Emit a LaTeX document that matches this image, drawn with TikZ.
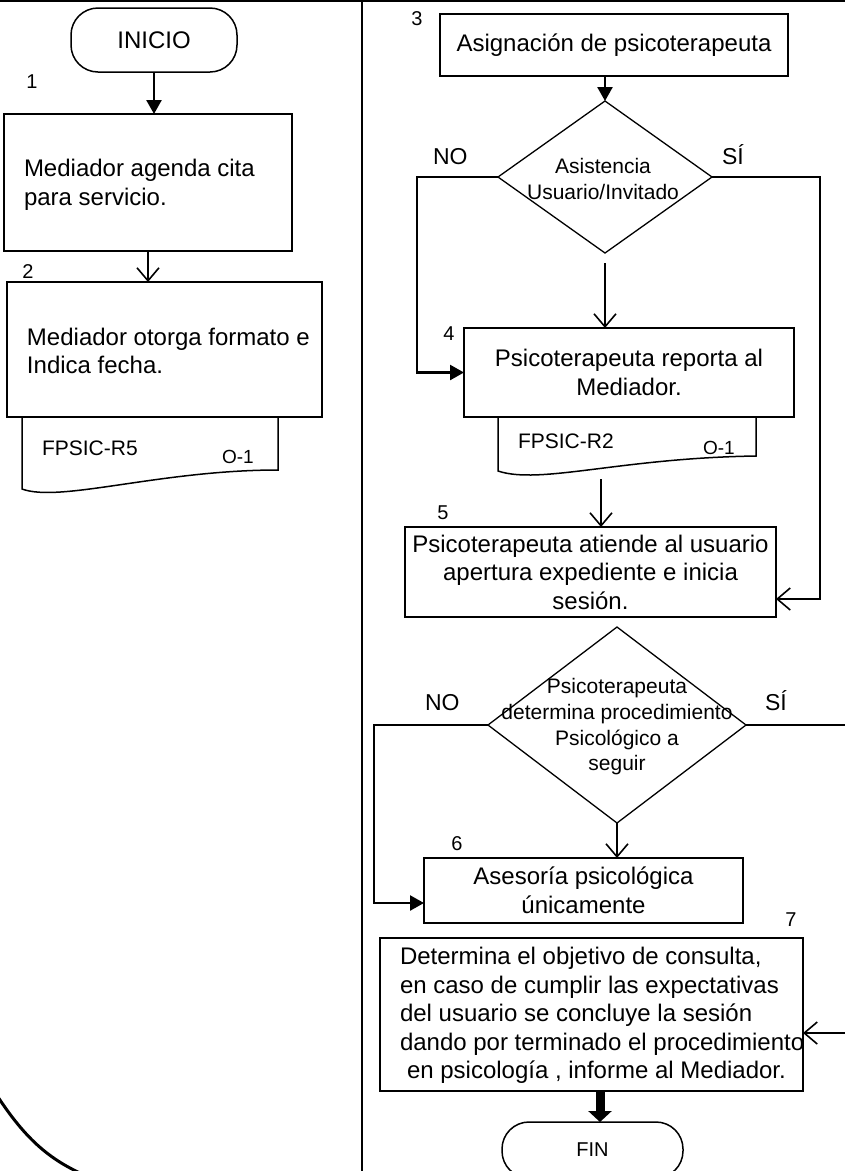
\documentclass[tikz,border=0pt]{standalone}
\usepackage{fontspec}
\setmainfont{Liberation Sans}
\usetikzlibrary{arrows.meta,shapes.geometric}
\begin{document}
\begin{tikzpicture}[x=1pt,y=-1pt,
  every node/.style={inner sep=0pt, outer sep=0pt},
  txt/.style={font=\fontsize{24}{28.5}\selectfont},
  small/.style={font=\fontsize{21}{26}\selectfont},
  procbox/.style={draw, line width=1.5pt, txt, align=center},
  term/.style={draw, line width=1.5pt, rounded corners=27pt, txt},
  decision/.style={diamond, draw, line width=1.3pt},
  num/.style={font=\fontsize{20}{24}\selectfont, anchor=base},
  yesno/.style={font=\fontsize{23}{27}\selectfont, anchor=base west},
  formcode/.style={font=\fontsize{21}{25}\selectfont, anchor=base west},
  copycode/.style={font=\fontsize{19}{23}\selectfont, anchor=base west},
  doc/.style={line width=1.5pt},
  solidhead/.style={line width=2.5pt, -{Triangle[length=14pt,width=15pt]}},
  openhead/.style={line width=1.6pt, -{Straight Barb[length=13pt,width=22pt]}},
  heavy/.style={line width=2.5pt},
]
\useasboundingbox (0,0) rectangle (845,1171);
\fill[white] (0,0) rectangle (845,1171);
\clip (0,0) rectangle (845,1171);

% frame: top rule, column divider, arc at lower left
\draw[line width=2pt] (0,1) -- (845,1);
\draw[line width=2.5pt] (362,0) -- (362,1171);
\draw[line width=3pt] (-2,1097) .. controls (25,1138) and (48,1158) .. (80,1173);

% ---------- left column ----------
\node[term, minimum width=166pt, minimum height=64pt] (ini) at (154,40) {INICIO};
\node[num] (n1) at (32,88) {1};

\node[procbox, minimum width=288pt, minimum height=137pt] (b1) at (148,182.5) {};
\node[txt, align=left, anchor=west] (b1t) at (24,185) {Mediador agenda cita\\para servicio.};

\node[num] (n2) at (28,278) {2};
\node[procbox, minimum width=315pt, minimum height=135pt] (b2) at (164.5,349.5) {};
\node[txt, align=left, anchor=west] (b2t) at (27,351) {Mediador otorga formato e\\Indica fecha.};

% document FPSIC-R5
\draw[doc] (22,417) -- (22,489) .. controls (60,503) and (160,470) .. (278,470) -- (278,417);
\node[formcode] (f5) at (42,455) {FPSIC-R5};
\node[copycode] (c5) at (222,463) {O-1};

\draw[solidhead] (ini.south) -- (ini.south |- b1.north);
\draw[openhead] (b1.south) -- (b1.south |- b2.north);

% ---------- right column ----------
\node[num] (n3) at (417,25) {3};
\node[procbox, minimum width=348pt, minimum height=62pt] (b3) at (614,45) {Asignación de psicoterapeuta};

\node[decision, minimum width=214pt, minimum height=152pt] (d1) at (605,177) {};
\node[small, align=center] (d1t) at (603,178.5) {Asistencia\\Usuario/Invitado};
\node[yesno] (no1) at (433,164) {NO};
\node[yesno] (si1) at (722,164) {SÍ};

\node[num] (n4) at (449,340) {4};
\node[procbox, minimum width=330pt, minimum height=89pt] (b4) at (629,372.5) {Psicoterapeuta reporta al\\Mediador.};

% document FPSIC-R2
\draw[doc] (498,417) -- (498,471) .. controls (540,485) and (620,458) .. (756,456) -- (756,417);
\node[formcode] (f2) at (518,448) {FPSIC-R2};
\node[copycode] (c2) at (703,454) {O-1};
\coordinate (doc2tail) at (601,479);

\node[num] (n5) at (443,519) {5};
\node[procbox, minimum width=371pt, minimum height=90pt] (b5) at (590.5,572) {Psicoterapeuta atiende al usuario\\apertura expediente e inicia\\sesión.};

\node[decision, minimum width=258pt, minimum height=196pt] (d2) at (617,725) {};
\node[small, align=center, font=\fontsize{21}{25.7}\selectfont] (d2t) at (617,727) {Psicoterapeuta\\determina procedimiento\\Psicológico a\\seguir};
\node[yesno] (no2) at (425,710) {NO};
\node[yesno] (si2) at (765,710) {SÍ};

\node[num] (n6) at (457,850) {6};
\node[procbox, minimum width=319pt, minimum height=65pt] (b6) at (583.5,890.5) {Asesoría psicológica\\únicamente};

\node[num] (n7) at (791,926) {7};
\node[procbox, minimum width=423pt, minimum height=153pt] (b7) at (591.5,1014.5) {};
\node[txt, align=left, anchor=west] (b7t) at (400,1015.5) {Determina el objetivo de consulta,\\en caso de cumplir las expectativas\\del usuario se concluye la sesión\\dando por terminado el procedimiento\\\hspace*{7pt}en psicología , informe al Mediador.};

\node[term, minimum width=181pt, minimum height=56pt, font=\fontsize{20}{24}\selectfont] (fin) at (592.5,1150) {FIN};

% ---------- connectors ----------
\draw[solidhead] (d1.north |- b3.south) -- (d1.north);
\draw[openhead, shorten <=10pt] (d1.south) -- (d1.south |- b4.north);
\draw[solidhead] (d1.west) -- ++(-81,0) |- (b4.west);
\draw[openhead] (d1.east) -- ++(108,0) |- (b5.east |- 0,599);
\draw[openhead] (doc2tail) -- (doc2tail |- b5.north);
\draw[openhead] (d2.south) -- (d2.south |- b6.north);
\draw[solidhead] (d2.west) -- ++(-114,0) |- (b6.west |- 0,903);
\draw[openhead] (d2.east) -- ++(115,0) |- (b7.east |- 0,1033);
\draw[line width=9pt, -{Triangle[length=11pt,width=23pt]}] (b7.south -| 600,0) -- (fin.north -| 600,0);
\end{tikzpicture}
\end{document}
